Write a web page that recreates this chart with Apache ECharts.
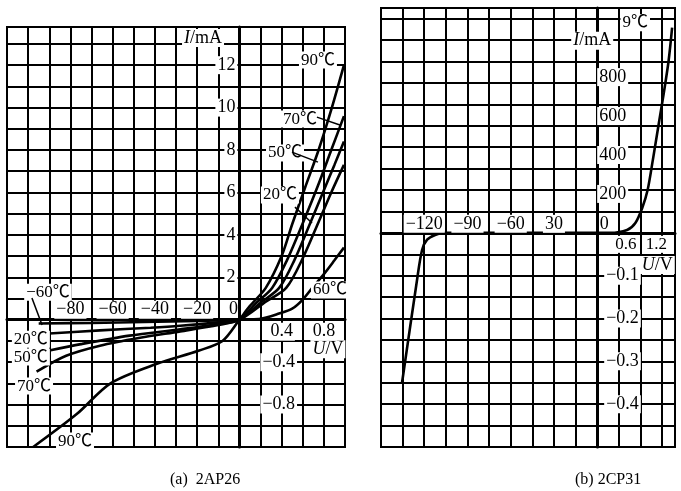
<!DOCTYPE html>
<html><head><meta charset="utf-8">
<script src="https://cdn.jsdelivr.net/npm/echarts@6/dist/echarts.min.js"></script>
<style>html,body{margin:0;padding:0;background:#fff}#c{width:681px;height:491px}</style>
</head><body><div id="c"></div>
<script>
// ===== Panel (a) 2AP26 : U in V, I in mA =====
const a_m60_U = [-95, -70, -45, -20, 0, 0.1, 0.2, 0.255, 0.35, 0.5, 0.6, 0.69, 0.8, 0.9, 0.99];
const a_m60_I = [-0.035, -0.03, -0.022, -0.012, 0, 0.01, 0.04, 0.1, 0.25, 0.52, 0.95, 1.5, 2.15, 2.8, 3.4];
const a_20_U = [-90, -66, -42, -28, -10, 0, 0.25, 0.443, 0.6, 0.755, 0.87, 0.99];
const a_20_I = [-0.13, -0.1, -0.075, -0.057, -0.025, 0, 0.85, 1.5, 2.9, 4.67, 6.0, 7.3];
const a_50_U = [-90, -75, -52, -28, -10, 0, 0.2, 0.377, 0.52, 0.68, 0.8, 0.9, 0.99];
const a_50_I = [-0.29, -0.23, -0.15, -0.09, -0.04, 0, 0.8, 1.5, 2.8, 4.67, 6.1, 7.3, 8.4];
const a_70_U = [-96, -82, -66, -47, -28, -10, 0, 0.15, 0.31, 0.45, 0.61, 0.75, 0.87, 0.99];
const a_70_I = [-0.49, -0.34, -0.245, -0.17, -0.11, -0.05, 0, 0.75, 1.5, 2.8, 4.67, 6.4, 8.0, 9.6];
const a_90_U = [-97.6, -77, -61, -39, -19, -8, 0, 0.1, 0.25, 0.4, 0.5, 0.62, 0.75, 0.87, 0.99];
const a_90_I = [-1.2, -0.89, -0.6, -0.415, -0.29, -0.2, 0, 0.65, 1.5, 3.0, 4.5, 6.2, 8.0, 9.9, 12.0];

const a_xNegTicks = [-80, -60, -40, -20];
const a_xPosTicks = [0.4, 0.8];
const a_yPosTicks = [2, 4, 6, 8, 10, 12];
const a_yNegTicks = [-0.4, -0.8];

// ===== Panel (b) 2CP31 =====
const b_U = [-135.4, -125, -121.5, -118, -112.5, -107, -60, 0, 0.36, 0.83, 1.06, 1.25, 1.4, 1.55, 1.7, 1.85, 1.98, 2.08];
const b_I = [-0.35, -0.11, -0.04, -0.016, -0.005, 0, 0, 0, 0, 15, 51, 128, 220, 380, 550, 720, 880, 1054];

const b_xNegTicks = [-120, -90, -60, -30];
const b_xNegTexts = ['−120', '−90', '−60', '30'];
const b_xPosTicks = [0.6, 1.2];
const b_yPosTicks = [200, 400, 600, 800];
const b_yNegTicks = [-0.1, -0.2, -0.3, -0.4];

// ===== piecewise scales (units per grid cell) =====
function toA(u, i) { return [u < 0 ? u / 10 : u / 0.2, i < 0 ? i / 0.2 : i / 1]; }
function toB(u, i) { return [u < 0 ? u / 15 : u / 0.6, i < 0 ? i / 0.05 : i / 110]; }

const FONT = "'Liberation Serif','Noto Sans CJK SC',serif";
const chart = echarts.init(document.getElementById('c'), null, {renderer: 'canvas'});

function axisPair(xmin, xmax, ymin, ymax, idx) {
  const common = {
    type: 'value', interval: 1, gridIndex: idx,
    axisLine: {show: true, onZero: true, lineStyle: {color: '#000', width: 3}},
    axisTick: {show: false}, axisLabel: {show: false},
    splitLine: {show: true, lineStyle: {color: '#000', width: 2}}
  };
  return {
    x: Object.assign({}, common, {min: xmin, max: xmax}),
    y: Object.assign({}, common, {min: ymin, max: ymax})
  };
}
const pa = axisPair(-11, 5, -6, 13.8, 0);
const pb = axisPair(-10, 3.6, -10, 10.5, 1);

function curve(U, I, conv, ax) {
  return {
    type: 'line', xAxisIndex: ax, yAxisIndex: ax, smooth: 0.3, showSymbol: false, silent: true,
    data: U.map((u, k) => conv(u, I[k])),
    lineStyle: {color: '#000', width: 2.6}, z: 3
  };
}
function fmtNum(v) { return (v < 0 ? '−' : '') + String(Math.abs(v)); }

const baseLabel = {fontFamily: FONT, fontSize: 18, color: '#000', backgroundColor: '#fff', padding: [0, 2], opacity: 1,
  rich: {i: {fontFamily: FONT, fontSize: 18, fontStyle: 'italic', color: '#000'}}};

function labelSeries(ax, items) {
  return {
    type: 'scatter', xAxisIndex: ax, yAxisIndex: ax, symbolSize: 0, silent: true, z: 10,
    itemStyle: {opacity: 1},
    label: Object.assign({show: true, formatter: p => p.name}, baseLabel),
    data: items
  };
}
function item(name, xy, lab) { return {name: name, value: xy, label: lab}; }

// tick labels panel a
const aTicks = [];
a_xNegTicks.forEach(v => aTicks.push(item(fmtNum(v), toA(v, 0), {position: 'top', distance: 1})));
a_xPosTicks.forEach(v => aTicks.push(item(String(v), toA(v, 0), {position: 'bottom', distance: 3})));
a_yPosTicks.forEach(v => aTicks.push(item(String(v), toA(0, v), {position: 'left', distance: 2})));
a_yNegTicks.forEach(v => aTicks.push(item(fmtNum(v), toA(0, v), {position: 'right', distance: 21})));
aTicks.push(item('0', [0, 0], {position: 'inside', offset: [-6, -10], backgroundColor: 'transparent'}));

// annotations panel a (positions in grid cells)
const aNotes = [
  item('{i|I}/mA', [-1.72, 13.28], {position: 'inside'}),
  item('90℃', [3.72, 12.24], {position: 'inside', fontSize: 17}),
  item('70℃', [2.87, 9.46], {position: 'inside', fontSize: 17}),
  item('50℃', [2.16, 7.86], {position: 'inside', fontSize: 17}),
  item('20℃', [1.92, 5.88], {position: 'inside', fontSize: 17}),
  item('60℃', [4.29, 1.4], {position: 'inside', fontSize: 17}),
  item('−60℃', [-9.06, 1.3], {position: 'inside', fontSize: 17}),
  item('20℃', [-9.87, -0.92], {position: 'inside', fontSize: 17}),
  item('50℃', [-9.87, -1.76], {position: 'inside', fontSize: 17}),
  item('70℃', [-9.72, -3.13], {position: 'inside', fontSize: 17}),
  item('90℃', [-7.78, -5.72], {position: 'inside', fontSize: 17}),
  item('{i|U}/V', [4.19, -1.39], {position: 'inside'})
];
const aLeaders = [
  [[3.67, 9.55], [4.76, 9.18]],
  [[2.49, 7.9], [3.72, 7.43]],
  [[2.63, 5.31], [3.44, 4.56]],
  [[-9.82, 1.02], [-9.34, -0.25]]
];

// tick labels panel b
const bPosOffsets = [[7, 0], [16, 0]];
const bTicks = [];
b_xNegTicks.forEach((v, k) => bTicks.push(item(b_xNegTexts[k], toB(v, 0), {position: 'top', distance: 0})));
b_xPosTicks.forEach((v, k) => bTicks.push(item(String(v), toB(v, 0), {position: 'bottom', distance: 3, fontSize: 17, padding: 0, offset: bPosOffsets[k]})));
b_yPosTicks.forEach(v => bTicks.push(item(String(v), toB(0, v), {position: 'right', distance: 0})));
b_yNegTicks.forEach(v => bTicks.push(item(fmtNum(v), toB(0, v), {position: 'right', distance: 7})));
bTicks.push(item('0', [0, 0], {position: 'inside', offset: [7, -9], backgroundColor: 'transparent'}));

const bNotes = [
  item('{i|I}/mA', [-0.23, 8.97], {position: 'inside'}),
  item('9℃', [1.76, 9.81], {position: 'inside', fontSize: 17}),
  item('{i|U}/V', [2.78, -1.5], {position: 'inside'})
];

const series = [
  curve(a_m60_U, a_m60_I, toA, 0),
  curve(a_20_U, a_20_I, toA, 0),
  curve(a_50_U, a_50_I, toA, 0),
  curve(a_70_U, a_70_I, toA, 0),
  curve(a_90_U, a_90_I, toA, 0),
  curve(b_U, b_I, toB, 1),
  labelSeries(0, aTicks.concat(aNotes)),
  labelSeries(1, bTicks.concat(bNotes))
];
aLeaders.forEach(seg => series.push({
  type: 'line', xAxisIndex: 0, yAxisIndex: 0, data: seg, showSymbol: false, silent: true,
  lineStyle: {color: '#000', width: 1.5}, z: 11
}));

chart.setOption({
  animation: false,
  backgroundColor: '#fff',
  title: [
    {text: '(a)  2AP26', left: 165, top: 467, textStyle: {fontFamily: FONT, fontSize: 16, fontWeight: 'normal', color: '#000'}},
    {text: '(b) 2CP31', left: 570, top: 467, textStyle: {fontFamily: FONT, fontSize: 16, fontWeight: 'normal', color: '#000'}}
  ],
  grid: [
    {left: 7, top: 27, width: 338, height: 420, show: true, borderColor: '#000', borderWidth: 2},
    {left: 381, top: 8, width: 294, height: 439, show: true, borderColor: '#000', borderWidth: 2}
  ],
  xAxis: [pa.x, pb.x],
  yAxis: [pa.y, pb.y],
  series: series
});
</script>
</body></html>
